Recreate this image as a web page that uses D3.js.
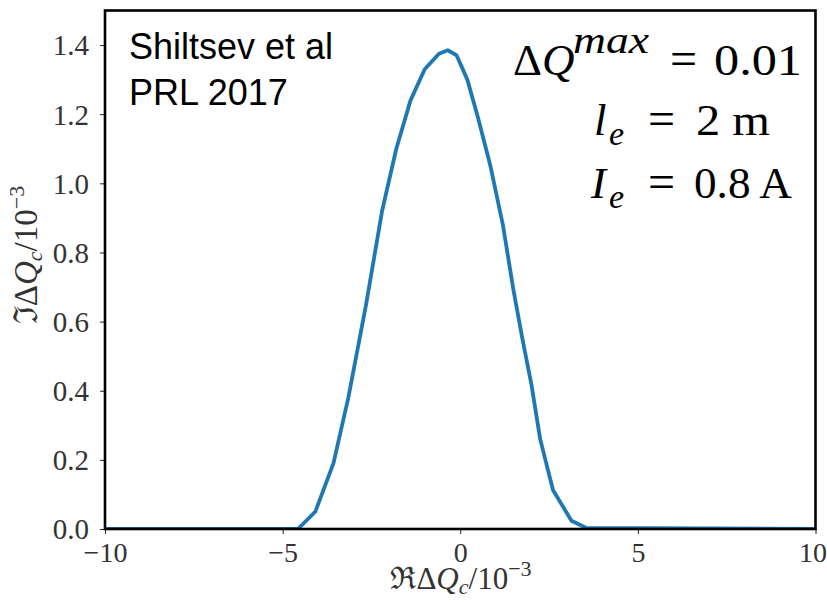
<!DOCTYPE html>
<html>
<head>
<meta charset="utf-8">
<script src="https://cdn.jsdelivr.net/npm/d3@7"></script>
<style>
  html, body { margin: 0; padding: 0; background: #fff; }
  svg { display: block; }
</style>
</head>
<body>
<svg id="chart" width="827" height="603"></svg>
<script>
// Real part of the coherent tune shift (units of 1e-3)
const reDQ = [-10, -4.57, -4.08, -3.57, -3.15, -2.65, -2.2, -1.8, -1.4, -1.0, -0.6, -0.35, -0.1, 0.2, 0.5, 0.85, 1.2, 1.5, 1.75, 2.0, 2.25, 2.61, 3.13, 3.55, 10];
// Imaginary part of the coherent tune shift (units of 1e-3)
const imDQ = [0, 0, 0.05, 0.19, 0.38, 0.65, 0.92, 1.1, 1.24, 1.33, 1.375, 1.385, 1.37, 1.3, 1.19, 1.05, 0.88, 0.69, 0.55, 0.42, 0.26, 0.113, 0.024, 0.003, 0];

const xTicks = [-10, -5, 0, 5, 10];
const xTickLabels = ["\u221210", "\u22125", "0", "5", "10"];
const yTicks = [0, 0.2, 0.4, 0.6, 0.8, 1.0, 1.2, 1.4];
const yTickLabels = ["0.0", "0.2", "0.4", "0.6", "0.8", "1.0", "1.2", "1.4"];

const svg = d3.select("#chart");
const plotLeft = 105, plotRight = 815.5, plotTop = 10.5, plotBottom = 529;

const x = d3.scaleLinear().domain([-10, 10]).range([plotLeft, plotRight]);
const y = d3.scaleLinear().domain([0, 1.5]).range([plotBottom, plotTop]);

const tickFont = "'Liberation Serif', 'DejaVu Serif', serif";

// clip region for the curve
svg.append("defs").append("clipPath").attr("id", "plotclip")
  .append("rect").attr("x", plotLeft).attr("y", plotTop)
  .attr("width", plotRight - plotLeft).attr("height", plotBottom - plotTop);

// x axis
const xAxis = d3.axisBottom(x).tickValues(xTicks)
  .tickFormat((d, i) => xTickLabels[i]).tickSize(5).tickPadding(8);
const gx = svg.append("g").attr("transform", `translate(0,${plotBottom})`).call(xAxis);
gx.select(".domain").remove();
gx.selectAll("line").attr("stroke", "#222").attr("stroke-width", 1);
gx.selectAll("text").attr("font-family", tickFont).attr("font-size", 28)
  .attr("fill", "#333").attr("dy", "0.72em")
  .attr("dx", d => d === 10 ? -3 : 0);

// y axis
const yAxis = d3.axisLeft(y).tickValues(yTicks)
  .tickFormat((d, i) => yTickLabels[i]).tickSize(5).tickPadding(11);
const gy = svg.append("g").attr("transform", `translate(${plotLeft},0)`).call(yAxis);
gy.select(".domain").remove();
gy.selectAll("line").attr("stroke", "#222").attr("stroke-width", 1);
gy.selectAll("text").attr("font-family", tickFont).attr("font-size", 29)
  .attr("fill", "#333").attr("dy", "0.34em");

// curve
const pts = reDQ.map((v, i) => [v, imDQ[i]]);
svg.append("path")
  .datum(pts)
  .attr("clip-path", "url(#plotclip)")
  .attr("fill", "none")
  .attr("stroke", "#1f77b4")
  .attr("stroke-width", 3.8)
  .attr("stroke-linejoin", "round")
  .attr("d", d3.line().x(d => x(d[0])).y(d => y(d[1])));

// frame
svg.append("rect")
  .attr("x", plotLeft).attr("y", plotTop)
  .attr("width", plotRight - plotLeft).attr("height", plotBottom - plotTop)
  .attr("fill", "none").attr("stroke", "#000").attr("stroke-width", 2.6);

// axis labels
function axisLabel(sel, first) {
  sel.append("tspan").text(first + "\u0394");
  sel.append("tspan").attr("font-style", "italic").text("Q");
  sel.append("tspan").attr("font-style", "italic").attr("font-size", 22).attr("dy", 5).text("c");
  sel.append("tspan").attr("dy", -5).text("/10");
  sel.append("tspan").attr("font-size", 22).attr("dy", -13).text("\u22123");
}
const xl = svg.append("text")
  .attr("x", 461).attr("y", 589)
  .attr("text-anchor", "middle")
  .attr("font-family", tickFont).attr("font-size", 31).attr("fill", "#333");
axisLabel(xl, "\u211C");

const yl = svg.append("text")
  .attr("transform", "translate(37,255) rotate(-90)")
  .attr("text-anchor", "middle")
  .attr("font-family", tickFont).attr("font-size", 33).attr("fill", "#333");
axisLabel(yl, "\u2111");

// reference note
const note = svg.append("g")
  .attr("font-family", "'Liberation Sans', Arial, sans-serif")
  .attr("font-size", 36).attr("fill", "#000");
note.append("text").attr("x", 129).attr("y", 59).text("Shiltsev et al");
note.append("text").attr("x", 129).attr("y", 105).text("PRL 2017");

// parameter annotations
const mathFont = "'Liberation Serif', 'DejaVu Serif', serif";
const ann = svg.append("g").attr("font-family", mathFont).attr("fill", "#000");
function piece(xp, yp, txt, size, italic, len) {
  const t = ann.append("text").attr("x", xp).attr("y", yp)
    .attr("font-size", size)
    .attr("font-style", italic ? "italic" : "normal")
    .text(txt);
  if (len) t.attr("textLength", len).attr("lengthAdjust", "spacingAndGlyphs");
}
// ΔQ^max = 0.01
piece(513, 75, "\u0394", 45, false);
piece(542, 75, "Q", 45, true);
piece(573, 53, "max", 38, true, 76);
piece(670, 75, "=", 48, false);
piece(714, 75, "0.01", 45, false, 88);
// l_e = 2 m
piece(594, 135, "l", 45, true);
piece(609, 145, "e", 34, true);
piece(648, 135, "=", 48, false);
piece(696, 135, "2 m", 45, false, 74);
// I_e = 0.8 A
piece(591, 198, "I", 45, true);
piece(609, 208, "e", 34, true);
piece(648, 198, "=", 48, false);
piece(694, 198, "0.8 A", 45, false, 98);
</script>
</body>
</html>
